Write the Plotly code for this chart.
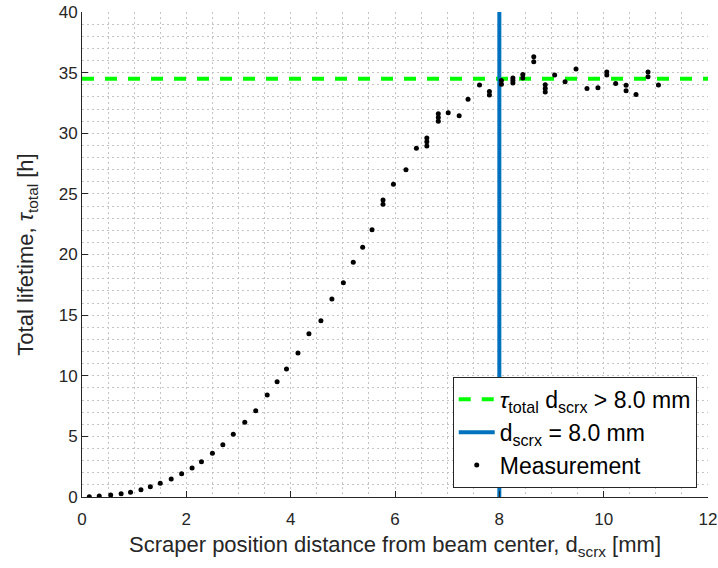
import plotly.graph_objects as go

# Measurement data (scraper position [mm], total lifetime [h])
pos_mm = [0.14, 0.33, 0.55, 0.75, 0.93, 1.13, 1.31, 1.50, 1.71, 1.91,
          2.11, 2.29, 2.50, 2.70, 2.90, 3.12, 3.33, 3.55, 3.74, 3.92,
          4.14, 4.35, 4.58, 4.79, 5.01, 5.20, 5.38, 5.56, 5.77, 5.77,
          5.97, 6.21, 6.41, 6.61, 6.61, 6.61, 6.83, 6.83, 6.83, 7.02,
          7.23, 7.40, 7.62, 7.81, 7.81, 8.04, 8.04, 8.26, 8.26, 8.26,
          8.45, 8.45, 8.66, 8.66, 8.88, 8.88, 8.88, 9.06, 9.26, 9.47,
          9.68, 9.89, 10.06, 10.06, 10.23, 10.43, 10.43, 10.62, 10.85, 10.85,
          11.05]
tau_h = [0.02, 0.08, 0.16, 0.27, 0.39, 0.60, 0.85, 1.13, 1.48, 1.92,
         2.39, 2.91, 3.60, 4.31, 5.17, 6.16, 7.12, 8.41, 9.51, 10.56,
         11.88, 13.47, 14.54, 16.33, 17.67, 19.36, 20.59, 22.05, 24.15, 24.50,
         25.79, 27.00, 28.76, 28.95, 29.30, 29.60, 31.00, 31.30, 31.60, 31.70,
         31.45, 32.80, 33.98, 33.15, 33.45, 34.05, 34.35, 34.15, 34.35, 34.55,
         34.55, 34.85, 35.90, 36.30, 33.40, 33.70, 34.00, 34.80, 34.25, 35.30,
         33.70, 33.76, 34.80, 35.05, 34.10, 33.50, 33.95, 33.20, 34.65, 35.05,
         33.98]

threshold_mm = 8.0
tau_mean_h = 34.5
x_range = [0, 12]
y_range = [0, 40]

font_family = "Liberation Sans, Arial, Helvetica, sans-serif"
axis_color = "#262626"
grid_color = "#c4c4c4"

fig = go.Figure()

fig.add_trace(go.Scatter(
    x=x_range, y=[tau_mean_h, tau_mean_h], mode="lines",
    line=dict(color="#00FF00", width=4, dash="12px,11px"),
    name="<i>τ</i><sub>total</sub> d<sub>scrx</sub> &gt; 8.0 mm",
))
fig.add_trace(go.Scatter(
    x=[threshold_mm, threshold_mm], y=y_range, mode="lines",
    line=dict(color="#0072BD", width=4),
    name="d<sub>scrx</sub> = 8.0 mm",
))
fig.add_trace(go.Scatter(
    x=pos_mm, y=tau_h, mode="markers",
    marker=dict(color="black", size=5),
    name="Measurement",
))

axis_common = dict(
    showline=True, linecolor=axis_color, linewidth=1,
    ticks="inside", ticklen=6, tickcolor=axis_color,
    tickfont=dict(family=font_family, size=17, color=axis_color),
    showgrid=True, gridcolor=grid_color, griddash="2px,3px", gridwidth=1,
    zeroline=False, mirror=False, automargin=False,
)

fig.update_xaxes(
    range=x_range, dtick=2, ticklabelstandoff=7,
    minor=dict(dtick=0.5, showgrid=True, gridcolor=grid_color, griddash="2px,3px", ticks=""),
    title=dict(text="Scraper position distance from beam center, d<sub>scrx</sub> [mm]",
               font=dict(family=font_family, size=22, color=axis_color), standoff=8),
    **axis_common,
)
fig.update_yaxes(
    range=y_range, dtick=5,
    minor=dict(dtick=1, showgrid=True, gridcolor=grid_color, griddash="2px,3px", ticks=""),
    title=dict(text="Total lifetime, <i>τ</i><sub>total</sub> [h]",
               font=dict(family=font_family, size=22, color=axis_color), standoff=18),
    **axis_common,
)

fig.update_layout(
    width=718, height=568,
    margin=dict(l=82, r=10, t=12, b=71),
    plot_bgcolor="white", paper_bgcolor="white",
    showlegend=True,
    legend=dict(
        x=0.982, y=0.019, xanchor="right", yanchor="bottom",
        bgcolor="white", bordercolor=axis_color, borderwidth=1,
        font=dict(family=font_family, size=23, color="black"),
        tracegroupgap=0, itemwidth=36,
    ),
)

fig.write_html("out.html")
